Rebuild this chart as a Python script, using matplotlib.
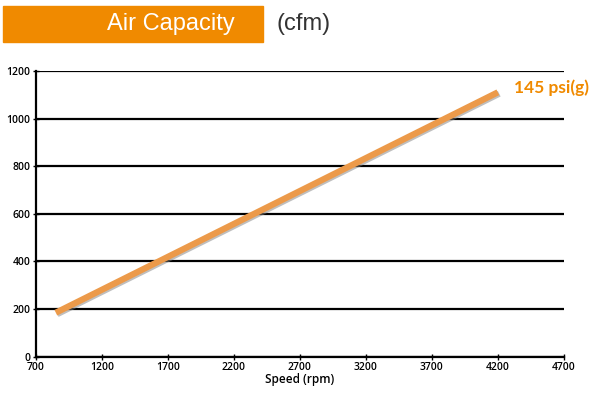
import matplotlib
matplotlib.use("Agg")
import matplotlib.pyplot as plt
import matplotlib.patches as patches
import matplotlib.patheffects as pe

# данные
speed = [850, 4200]
capacity = [185, 1110]
series_label = "145 psi(g)"
x_ticks = [700, 1200, 1700, 2200, 2700, 3200, 3700, 4200, 4700]
y_ticks = [0, 200, 400, 600, 800, 1000, 1200]

orange = "#f08a00"
line_col = "#ec9a4a"

fig = plt.figure(figsize=(5.91, 4.05), dpi=100)
ax = fig.add_axes([0.061, 0.119, 0.893, 0.706])

ax.plot(speed, capacity, color=line_col, lw=4.5, solid_capstyle="butt",
        path_effects=[pe.SimpleLineShadow(offset=(1, -1), shadow_color="gray", alpha=0.5), pe.Normal()],
        zorder=3)

ax.set_xlim(700, 4700)
ax.set_ylim(0, 1200)
ax.set_xticks(x_ticks)
ax.set_yticks(y_ticks)
ax.tick_params(labelsize=7.5, direction="inout", length=4, width=1, pad=2)
for lab in ax.get_xticklabels() + ax.get_yticklabels():
    lab.set_fontfamily("Open Sans")
    lab.set_fontweight("semibold")
ax.yaxis.grid(True, color="black", lw=1.6)
ax.set_axisbelow(True)
for s in ["top", "right"]:
    ax.spines[s].set_visible(False)
for s in ["left", "bottom"]:
    ax.spines[s].set_linewidth(1.6)
ax.set_xlabel("Speed (rpm)", fontsize=8.5, fontweight="semibold", family="Open Sans", labelpad=0)

# подпись серии
ax.text(speed[-1] + 120, capacity[-1] + 20, series_label, color=orange, fontsize=12.5,
        fontweight="bold", family="Lato", va="center", ha="left", clip_on=False)

# заголовок
fig.patches.append(patches.Rectangle((3 / 591, 1 - 42 / 405), 260 / 591, 36 / 405,
                                     transform=fig.transFigure, color=orange))
fig.text(171 / 591, 1 - 24 / 405, "Air Capacity", color="white", fontsize=17,
         ha="center", va="center", family="Liberation Sans")
fig.text(277 / 591, 1 - 24 / 405, "(cfm)", color="#333333", fontsize=17,
         ha="left", va="center", family="Liberation Sans")

plt.savefig("out.png", dpi=100)
